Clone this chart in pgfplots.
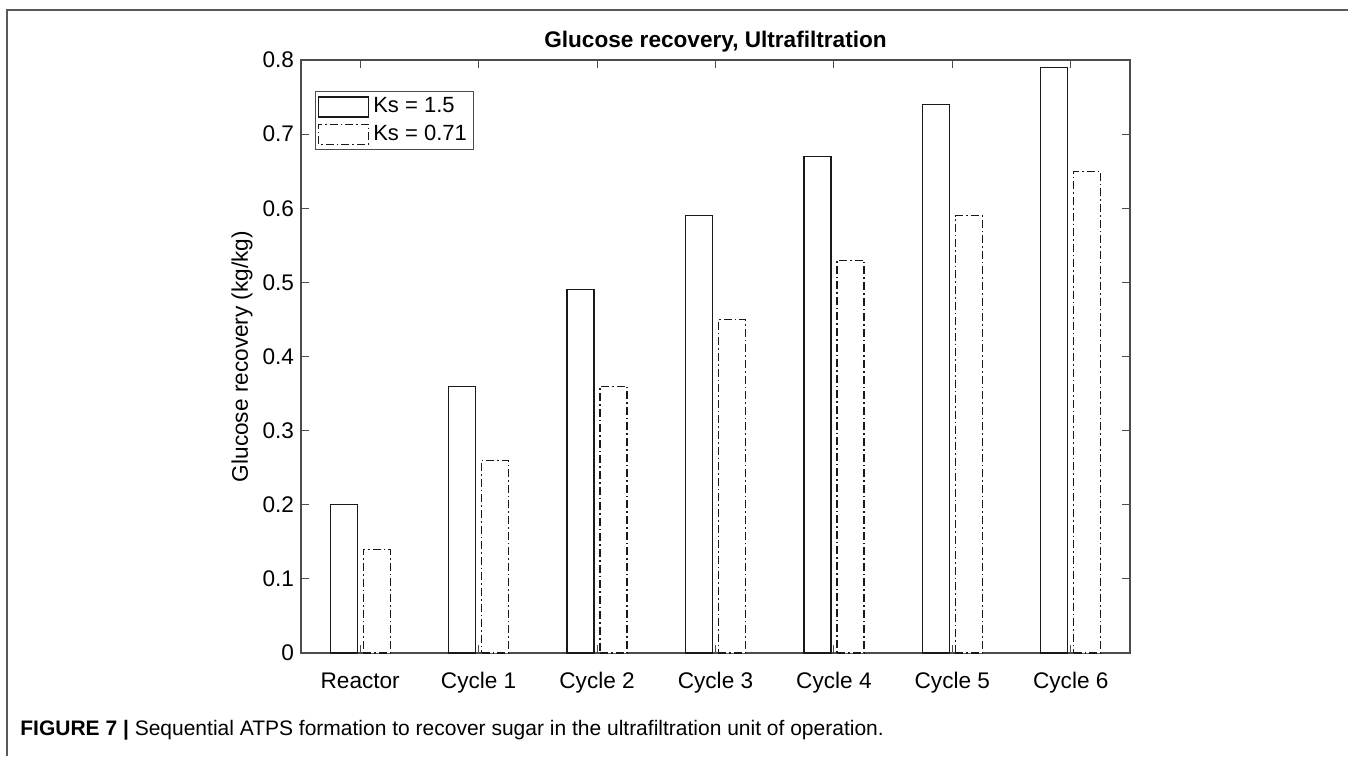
\documentclass[border=0pt]{standalone}
\usepackage{fontspec}
\setmainfont{Liberation Sans}
\usepackage{pgfplots}
\pgfplotsset{compat=1.18}

\pgfplotsset{
  barlegend/.style={legend image code/.code={\draw[##1, fill=white] (0pt,-5pt) rectangle (25pt,5pt);}}
}

\begin{document}
\begin{tikzpicture}
\path[use as bounding box] (-150.5pt,-51.5pt) rectangle (523.5pt,326.5pt);
\begin{axis}[
  at={(0pt,0pt)}, anchor=south west,
  width=414.5pt, height=296.5pt, scale only axis,
  font=\fontsize{11.3}{13.5}\selectfont,
  ybar, bar width=13.5pt, ybar=3pt,
  xmin=-0.5, xmax=6.5, ymin=0, ymax=0.8,
  xtick={0,1,2,3,4,5,6},
  xticklabels={Reactor, Cycle 1, Cycle 2, Cycle 3, Cycle 4, Cycle 5, Cycle 6},
  ytick={0,0.1,0.2,0.3,0.4,0.5,0.6,0.7,0.8},
  yticklabel style={/pgf/number format/fixed, /pgf/number format/precision=1},
  /pgf/number format/assume math mode=true,
  xticklabel style={anchor=base, yshift=-17.5pt},
  axis line style={black!70, line width=0.6pt},
  tick style={black!70, line width=0.5pt},
  major tick length=4pt, tick align=inside,
  xtick pos=both, ytick pos=both,
  title={Glucose recovery, Ultrafiltration},
  title style={at={(axis description cs:0.5,1)}, anchor=base, inner sep=0pt, yshift=0.5pt, font=\fontsize{11.3}{13.5}\selectfont\bfseries},
  ylabel={Glucose recovery (kg/kg)},
  every axis y label/.style={at={(axis description cs:-0.071,0.5)}, rotate=90, anchor=center},
  legend style={at={(0.017,0.948)}, anchor=north west, draw=black!70, line width=0.6pt,
    inner sep=1.2pt, row sep=0.5pt, font=\fontsize{11}{12.5}\selectfont,
    cells={anchor=west}},
]
\addplot[barlegend, draw=black!90, fill=white, line width=0.6pt]
  coordinates {(0,0.20) (1,0.36) (2,0.49) (3,0.59) (4,0.67) (5,0.74) (6,0.79)};
\addplot[barlegend, draw=black!90, fill=white, line width=0.6pt,
  dash pattern=on 4pt off 1.5pt on 0.8pt off 1.5pt]
  coordinates {(0,0.14) (1,0.26) (2,0.36) (3,0.45) (4,0.53) (5,0.59) (6,0.65)};
\legend{Ks = 1.5, Ks = 0.71}
\end{axis}
\draw[black!65, line width=0.7pt] (-147pt,-51.5pt) -- (-147pt,321.5pt) -- (523.5pt,321.5pt);
\node[anchor=base west, inner sep=0pt, font=\fontsize{10.5}{12}\selectfont] at (-140.5pt,-41pt)
  {\textbf{FIGURE 7 |} Sequential ATPS formation to recover sugar in the ultrafiltration unit of operation.};
\end{tikzpicture}
\end{document}
